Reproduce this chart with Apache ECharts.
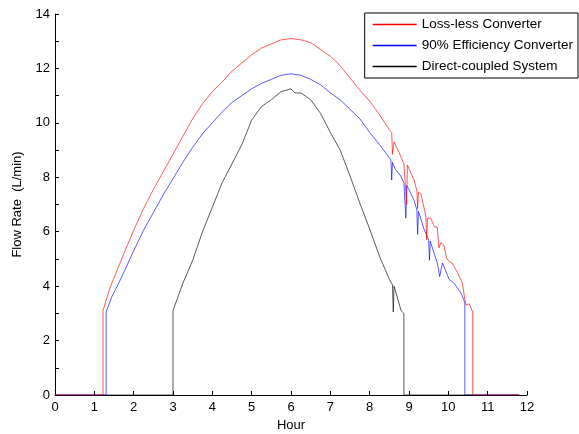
<!DOCTYPE html>
<html>
<head>
<meta charset="utf-8">
<script src="https://cdn.jsdelivr.net/npm/echarts@6/dist/echarts.min.js"></script>
<style>
  html, body { margin: 0; padding: 0; background: #fff; }
  #chart { width: 579px; height: 434px; }
</style>
</head>
<body>
<div id="chart"></div>
<script>
// values (hour, L/min)
var redHour = [0, 1.22, 1.22, 1.4, 1.5, 1.75, 2.0, 2.25, 2.5, 2.75, 3.0, 3.25, 3.5, 3.75, 4.0, 4.25, 4.5, 4.75, 5.0, 5.25, 5.5, 5.75, 6.0, 6.25, 6.5, 6.75, 7.0, 7.25, 7.5, 7.75, 8.0, 8.25, 8.5, 8.56, 8.58, 8.62, 8.75, 8.87, 8.92, 8.94, 8.96, 9.05, 9.13, 9.2, 9.22, 9.24, 9.3, 9.38, 9.43, 9.45, 9.47, 9.55, 9.64, 9.72, 9.76, 9.81, 9.89, 9.95, 10.02, 10.1, 10.23, 10.36, 10.42, 10.45, 10.53, 10.62, 10.62, 11.8];
var redFlow = [0, 0, 3.1, 3.95, 4.3, 5.2, 6.05, 6.85, 7.55, 8.2, 8.85, 9.5, 10.15, 10.7, 11.15, 11.5, 11.9, 12.2, 12.5, 12.75, 12.9, 13.05, 13.1, 13.05, 12.95, 12.7, 12.45, 12.1, 11.65, 11.2, 10.8, 10.3, 9.75, 9.65, 8.85, 9.3, 8.9, 8.5, 8.45, 7.0, 8.45, 8.15, 7.9, 7.5, 6.85, 7.45, 7.4, 6.9, 6.55, 5.7, 6.5, 6.5, 6.2, 6.15, 5.4, 5.6, 5.5, 5.05, 4.9, 4.85, 4.5, 4.1, 3.5, 3.3, 3.35, 3.05, 0, 0];

var blueHour = [0, 1.3, 1.3, 1.44, 1.6, 1.78, 2.0, 2.25, 2.5, 2.75, 3.0, 3.25, 3.5, 3.75, 4.0, 4.25, 4.5, 4.75, 5.0, 5.25, 5.5, 5.75, 6.0, 6.25, 6.5, 6.75, 7.0, 7.25, 7.5, 7.75, 8.0, 8.25, 8.45, 8.54, 8.56, 8.58, 8.65, 8.79, 8.87, 8.9, 8.92, 8.94, 9.0, 9.13, 9.2, 9.22, 9.24, 9.38, 9.5, 9.52, 9.54, 9.64, 9.72, 9.76, 9.78, 9.85, 10.02, 10.15, 10.32, 10.42, 10.42, 11.8];
var blueFlow = [0, 0, 3.05, 3.6, 4.05, 4.6, 5.3, 6.05, 6.7, 7.35, 7.95, 8.55, 9.1, 9.6, 10.0, 10.4, 10.75, 11.0, 11.25, 11.45, 11.6, 11.75, 11.8, 11.75, 11.6, 11.4, 11.1, 10.85, 10.5, 10.15, 9.65, 9.2, 8.82, 8.64, 7.9, 8.55, 8.3, 8.05, 7.8, 7.75, 6.5, 7.7, 7.55, 7.15, 6.8, 5.9, 6.75, 6.1, 5.7, 4.95, 5.65, 5.2, 4.85, 4.8, 4.35, 4.85, 4.25, 4.1, 3.75, 3.4, 0, 0];

var blackHour = [0, 3.0, 3.0, 3.1, 3.25, 3.5, 3.75, 4.0, 4.25, 4.5, 4.75, 5.0, 5.25, 5.5, 5.75, 6.0, 6.1, 6.25, 6.5, 6.75, 7.0, 7.25, 7.5, 7.75, 8.0, 8.25, 8.5, 8.58, 8.6, 8.62, 8.7, 8.8, 8.87, 8.87, 11.8];
var blackFlow = [0, 0, 3.1, 3.5, 4.1, 4.95, 6.0, 6.9, 7.8, 8.5, 9.2, 10.1, 10.6, 10.85, 11.15, 11.25, 11.1, 11.1, 10.85, 10.35, 9.65, 9.0, 8.05, 7.05, 6.1, 5.1, 4.25, 4.05, 3.05, 4.0, 3.6, 3.1, 3.0, 0, 0];

var seriesNames = ['Loss-less Converter', '90% Efficiency Converter', 'Direct-coupled System'];

function pairs(xs, ys) {
  var out = [];
  for (var i = 0; i < xs.length; i++) {
    out.push([xs[i], ys[i]]);
  }
  return out;
}

function lineSeries(name, color, xs, ys, z) {
  return {
    name: name,
    type: 'line',
    data: pairs(xs, ys),
    showSymbol: false,
    z: z,
    color: color,
    lineStyle: { color: color, width: 1, opacity: 0.65 }
  };
}

var chart = echarts.init(document.getElementById('chart'));
var font = 'Liberation Sans, Arial, sans-serif';

var option = {
  animation: false,
  backgroundColor: '#fff',
  // fixed plot box, no auto fitting of labels
  grid: { left: 55, right: 52, top: 14, bottom: 39, outerBoundsMode: 'none', containLabel: false },
  legend: {
    data: seriesNames,
    right: 1,
    top: 13,
    orient: 'vertical',
    icon: 'rect',
    itemWidth: 44,
    itemHeight: 1.5,
    itemGap: 6,
    padding: [4, 5, 4, 8],
    borderColor: '#000',
    borderWidth: 1,
    backgroundColor: '#fff',
    textStyle: { fontFamily: font, fontSize: 13.5, color: '#000', lineHeight: 15 }
  },
  xAxis: {
    type: 'value',
    min: 0,
    max: 12,
    interval: 1,
    name: 'Hour',
    nameLocation: 'middle',
    nameGap: 22,
    nameTextStyle: { fontFamily: font, fontSize: 13, color: '#000' },
    axisLine: { lineStyle: { color: '#000', width: 1 } },
    axisTick: { inside: true, length: 4, lineStyle: { color: '#000' } },
    axisLabel: { fontFamily: font, fontSize: 13, color: '#000', margin: 6 },
    splitLine: { show: false }
  },
  yAxis: {
    type: 'value',
    min: 0,
    max: 14,
    interval: 2,
    name: 'Flow Rate  (L/min)',
    nameLocation: 'middle',
    nameGap: 31,
    nameTextStyle: { fontFamily: font, fontSize: 13, color: '#000' },
    axisLine: { show: true, lineStyle: { color: '#000', width: 1 } },
    axisTick: { show: true, inside: true, length: 4, lineStyle: { color: '#000' } },
    minorTick: { show: true, splitNumber: 2, length: 4, lineStyle: { color: '#000' } },
    axisLabel: { fontFamily: font, fontSize: 13, color: '#000', margin: 5 },
    splitLine: { show: false }
  },
  series: [
    lineSeries(seriesNames[2], '#000000', blackHour, blackFlow, 2),
    lineSeries(seriesNames[1], '#0000ff', blueHour, blueFlow, 3),
    lineSeries(seriesNames[0], '#ff0000', redHour, redFlow, 4)
  ]
};

chart.setOption(option);
</script>
</body>
</html>
